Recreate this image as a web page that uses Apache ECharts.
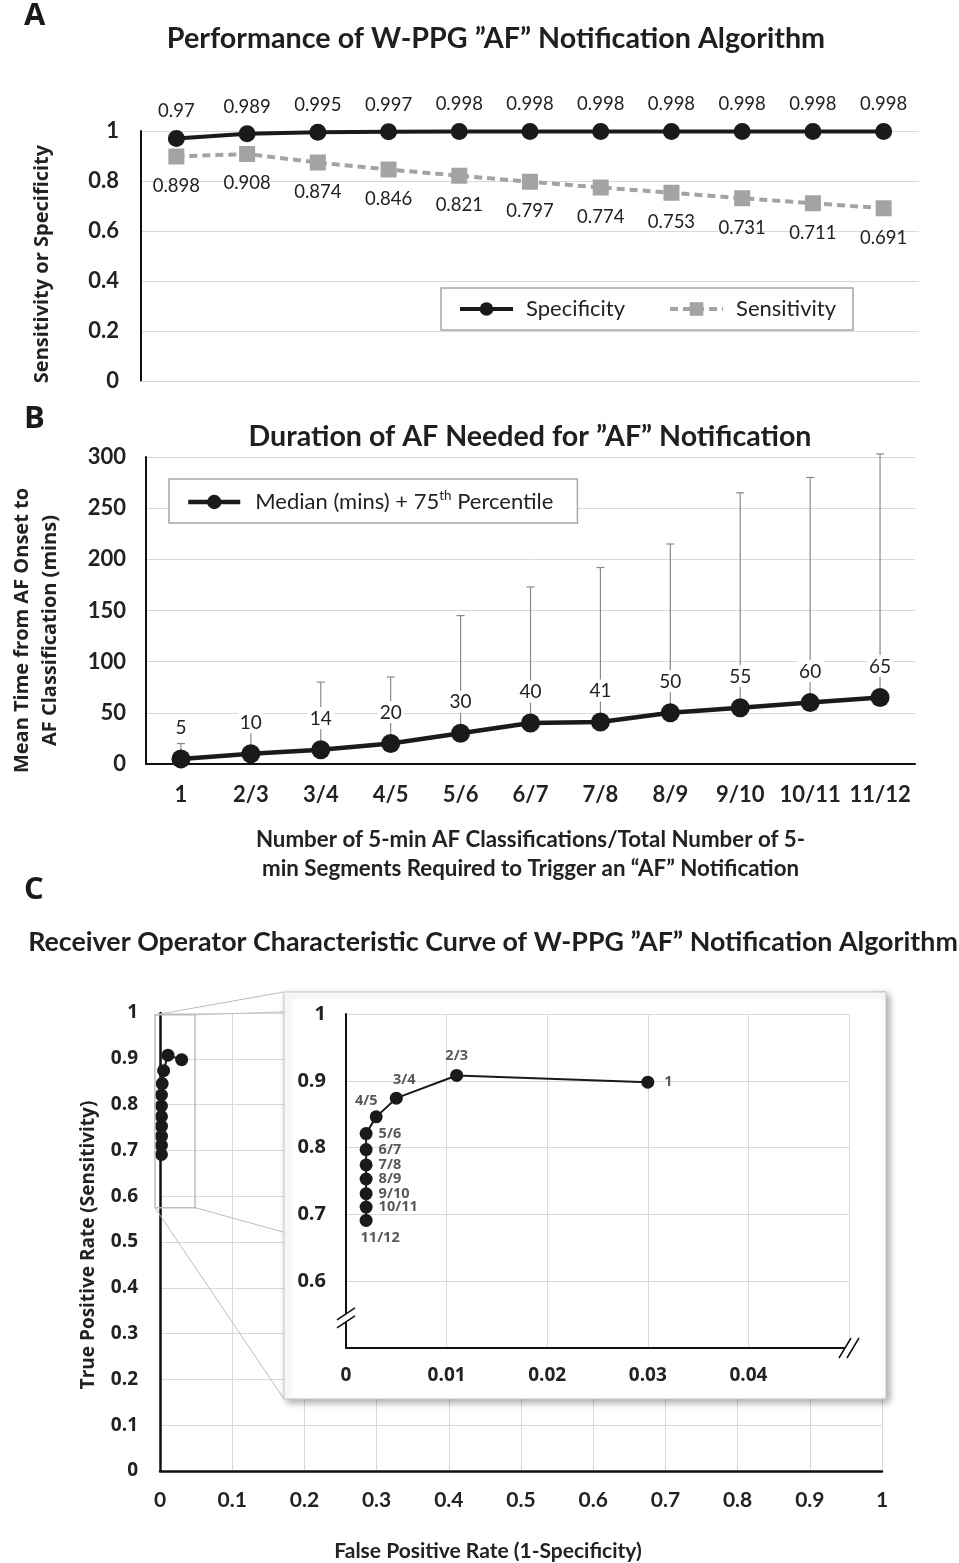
<!DOCTYPE html>
<html><head><meta charset="utf-8">
<script src="https://cdn.jsdelivr.net/npm/echarts@6/dist/echarts.min.js"></script>
<style>html,body{margin:0;padding:0;background:#fff}#c{width:959px;height:1563px}</style>
</head><body><div id="c"></div><script>
// ---------- data ----------
const categories = ['1','2/3','3/4','4/5','5/6','6/7','7/8','8/9','9/10','10/11','11/12'];
const specificity = [0.97,0.989,0.995,0.997,0.998,0.998,0.998,0.998,0.998,0.998,0.998];
const sensitivity = [0.898,0.908,0.874,0.846,0.821,0.797,0.774,0.753,0.731,0.711,0.691];
const medianMins = [5,10,14,20,30,40,41,50,55,60,65];
const p75Mins = [20,34,80,85,145,173,192,215,265,280,303];
const falsePositiveRate = specificity.map(s => +(1 - s).toFixed(3));

// ---------- styles ----------
const NARROW = "Lato,'Liberation Sans',sans-serif";
const WIDE = "'Open Sans','Noto Sans',sans-serif";
const TXT = '#222';
const GRID = '#d9d9d9';
const insetLabelLayout = {
  '1': {position:'right', distance:10},
  '2/3': {position:'top', distance:6},
  '3/4': {position:'top', distance:4, offset:[8,0]},
  '4/5': {position:'top', distance:2, offset:[-10,0]},
  '11/12': {position:'bottom', distance:3, offset:[14,0]}
};

const chart = echarts.init(document.getElementById('c'), null, {renderer:'canvas'});

const rocData = categories.map((c,i) => [falsePositiveRate[i], sensitivity[i], c]);

const option = {
  backgroundColor:'#fff',
  animation:false,
  title:[
    {text:'Performance of W-PPG \u201DAF\u201D Notification Algorithm', left:491, top:19, textAlign:'center',
     textStyle:{fontFamily:NARROW, fontWeight:'bold', fontSize:28.7, color:'#1f1f1f'}},
    {text:'Duration of AF Needed for \u201DAF\u201D Notification', left:525, top:417, textAlign:'center',
     textStyle:{fontFamily:NARROW, fontWeight:'bold', fontSize:28.6, color:'#1f1f1f'}},
    {text:'Receiver Operator Characteristic Curve of W-PPG \u201DAF\u201D Notification Algorithm', left:488, top:924, textAlign:'center',
     textStyle:{fontFamily:NARROW, fontWeight:'bold', fontSize:26.8, color:'#1f1f1f'}}
  ],
  legend:[
    {data:['Specificity','Sensitivity'], left:441, top:288, orient:'horizontal',
     padding:[10,17,10,17], itemGap:43, itemWidth:53, itemHeight:17,
     borderColor:'#a6a6a6', borderWidth:1.5, backgroundColor:'#fff',
     lineStyle:{width:4},
     textStyle:{fontFamily:NARROW, fontSize:22, color:TXT, padding:[0,0,0,8]}},
    {data:['Median (mins) + 75th Percentile'], left:169, top:479,
     padding:[10,24,10,17], itemWidth:52, itemHeight:18,
     borderColor:'#a6a6a6', borderWidth:1.5, backgroundColor:'#fff',
     lineStyle:{width:4.5},
     formatter:() => 'Median (mins) + 75{sup|th} Percentile',
     textStyle:{fontFamily:NARROW, fontSize:22, color:TXT, padding:[0,0,0,10],
       rich:{sup:{fontFamily:NARROW, fontSize:13.5, color:TXT, padding:[0,0,12,0]}}}}
  ],
  grid:[
    {left:141, top:131, width:778, height:250},
    {left:144, top:457, width:771, height:307},
    {left:160, top:1013, width:722, height:459},
    {left:346, top:1014, width:503, height:334}
  ],
  xAxis:[
    {type:'category', gridIndex:0, data:categories, boundaryGap:true,
     axisLine:{lineStyle:{color:GRID, width:1}}, axisTick:{show:false}, axisLabel:{show:false}},
    {type:'category', gridIndex:1, data:categories, boundaryGap:true,
     axisLine:{lineStyle:{color:'#111', width:2}}, axisTick:{show:false},
     axisLabel:{interval:0, fontFamily:NARROW, fontWeight:'bold', fontSize:22, color:TXT, margin:20},
     name:'Number of 5-min AF Classifications/Total Number of 5-\nmin Segments Required to Trigger an \u201CAF\u201D Notification',
     nameLocation:'middle', nameGap:61,
     nameTextStyle:{fontFamily:NARROW, fontWeight:'bold', fontSize:22.3, color:TXT, lineHeight:29, align:'center'}},
    {type:'value', gridIndex:2, min:0, max:1, interval:0.1,
     axisLine:{onZero:false, lineStyle:{color:'#111', width:2.5}}, axisTick:{show:false},
     splitLine:{show:true, lineStyle:{color:GRID}},
     axisLabel:{fontFamily:NARROW, fontWeight:'bold', fontSize:21, color:TXT, margin:19},
     name:'False Positive Rate (1-Specificity)', nameLocation:'middle', nameGap:70,
     nameTextStyle:{fontFamily:NARROW, fontWeight:'bold', fontSize:21, color:TXT, padding:[0,66,0,0]}},
    {type:'value', gridIndex:3, min:0, max:0.05, interval:0.01, z:11,
     axisLine:{onZero:false, lineStyle:{color:'#111', width:2}}, axisTick:{show:false},
     splitLine:{show:true, lineStyle:{color:GRID}},
     axisLabel:{fontFamily:WIDE, fontWeight:'bold', fontSize:19, color:TXT, margin:18,
       formatter:v => (Math.abs(v-0.05)<1e-9 ? '' : String(+v.toFixed(2)))}}
  ],
  yAxis:[
    {type:'value', gridIndex:0, min:0, max:1, interval:0.2,
     axisLine:{show:true, lineStyle:{color:'#111', width:2}}, axisTick:{show:false},
     splitLine:{lineStyle:{color:GRID}},
     axisLabel:{fontFamily:NARROW, fontWeight:'bold', fontSize:22, color:TXT, margin:22},
     name:'Sensitivity or Specificity', nameLocation:'middle', nameGap:89,
     nameTextStyle:{fontFamily:WIDE, fontWeight:'bold', fontSize:20, color:TXT, padding:[0,16,0,0]}},
    {type:'value', gridIndex:1, min:0, max:300, interval:50,
     axisLine:{show:true, lineStyle:{color:'#111', width:2}}, axisTick:{show:false},
     splitLine:{lineStyle:{color:GRID}},
     axisLabel:{fontFamily:NARROW, fontWeight:'bold', fontSize:22, color:TXT, margin:20},
     name:'Mean Time from AF Onset to\nAF Classification (mins)', nameLocation:'middle', nameGap:82,
     nameTextStyle:{fontFamily:WIDE, fontWeight:'bold', fontSize:20, color:TXT, lineHeight:28, align:'center', padding:[0,40,0,0]}},
    {type:'value', gridIndex:2, min:0, max:1, interval:0.1,
     axisLine:{show:true, onZero:false, lineStyle:{color:'#111', width:2.5}}, axisTick:{show:false},
     splitLine:{lineStyle:{color:GRID}},
     axisLabel:{fontFamily:WIDE, fontWeight:'bold', fontSize:19, color:TXT, margin:22,
       formatter:v => String(+v.toFixed(1))},
     name:'True Positive Rate (Sensitivity)', nameLocation:'middle', nameGap:62,
     nameTextStyle:{fontFamily:WIDE, fontWeight:'bold', fontSize:19, color:TXT, padding:[0,6,0,0]}},
    {type:'value', gridIndex:3, min:0.5, max:1, interval:0.1, z:11,
     axisLine:{show:true, onZero:false, lineStyle:{color:'#111', width:2}}, axisTick:{show:false},
     splitLine:{lineStyle:{color:GRID}},
     axisLabel:{fontFamily:WIDE, fontWeight:'bold', fontSize:20, color:TXT, margin:20,
       formatter:v => (Math.abs(v-0.5)<1e-9 ? '' : String(+v.toFixed(1)))}}
  ],
  series:[
    {name:'Specificity', type:'line', xAxisIndex:0, yAxisIndex:0, data:specificity,
     symbol:'circle', symbolSize:17, z:4,
     lineStyle:{color:'#1a1a1a', width:4}, itemStyle:{color:'#1a1a1a'},
     label:{show:true, position:'top', distance:9, fontFamily:NARROW, fontSize:18.5, color:TXT}},
    {name:'Sensitivity', type:'line', xAxisIndex:0, yAxisIndex:0, data:sensitivity,
     symbol:'rect', symbolSize:16, z:3,
     lineStyle:{color:'#a3a3a3', width:4, type:[8,5]}, itemStyle:{color:'#a3a3a3'},
     label:{show:true, position:'bottom', distance:12, fontFamily:NARROW, fontSize:18.5, color:TXT}},
    {name:'75th percentile', type:'custom', xAxisIndex:1, yAxisIndex:1, z:2,
     data:categories.map((c,i) => [i, medianMins[i], p75Mins[i]]),
     encode:{x:0, y:[1,2]},
     renderItem:(params, api) => {
       const top = api.coord([api.value(0), api.value(2)]);
       const bot = api.coord([api.value(0), api.value(1)]);
       const st = {stroke:'#8a8a8a', lineWidth:1.2};
       return {type:'group', children:[
         {type:'line', shape:{x1:top[0], y1:bot[1], x2:top[0], y2:top[1]}, style:st},
         {type:'line', shape:{x1:top[0]-4, y1:top[1], x2:top[0]+4, y2:top[1]}, style:st}
       ]};
     }},
    {name:'Median (mins) + 75th Percentile', type:'line', xAxisIndex:1, yAxisIndex:1, data:medianMins,
     symbol:'circle', symbolSize:19, z:4,
     lineStyle:{color:'#1a1a1a', width:4.5}, itemStyle:{color:'#1a1a1a'},
     label:{show:true, position:'top', distance:11, fontFamily:NARROW, fontSize:19, color:TXT,
       backgroundColor:'#fff', padding:[2,2,1,2]}},
    {name:'ROC', type:'line', xAxisIndex:2, yAxisIndex:2, data:rocData,
     symbol:'circle', symbolSize:13, z:3,
     lineStyle:{color:'#1a1a1a', width:2}, itemStyle:{color:'#1a1a1a'}},
    {name:'ROC inset', type:'line', xAxisIndex:3, yAxisIndex:3, z:12,
     data:rocData.map(d => ({value:d, label:Object.assign({show:true}, insetLabelLayout[d[2]] || {})})),
     symbol:'circle', symbolSize:13,
     lineStyle:{color:'#1a1a1a', width:2}, itemStyle:{color:'#1a1a1a'},
     label:{show:true, position:'right', distance:6, formatter:p => p.value[2],
       fontFamily:WIDE, fontWeight:'bold', fontSize:14.5, color:'#595959', lineHeight:15}}
  ]
};
chart.setOption(option);

// ---------- decorations: panel letters, inset box, zoom callout, axis breaks ----------
function decorate(){
  const px = (g, v) => chart.convertToPixel({gridIndex:g}, v);
  const box = {x:284, y:992, w:602, h:407};
  const r0 = px(2, [-0.007, 0.996]);
  const r1 = px(2, [0.0485, 0.575]);
  const gray = '#bdbdbd';
  const letter = "bold 31px 'Open Sans','Noto Sans',sans-serif";
  const els = [
    {type:'text', left:24, top:1, style:{text:'A', font:letter, fill:'#1a1a1a'}},
    {type:'text', left:24, top:404, style:{text:'B', font:letter, fill:'#1a1a1a'}},
    {type:'text', left:24, top:875, style:{text:'C', font:letter, fill:'#1a1a1a'}},
    {type:'rect', z:9, shape:{x:r0[0], y:r0[1], width:r1[0]-r0[0], height:r1[1]-r0[1]},
     style:{fill:null, stroke:gray, lineWidth:1.5}},
    {type:'line', z:9, shape:{x1:r0[0], y1:r0[1], x2:box.x, y2:box.y}, style:{stroke:gray, lineWidth:1}},
    {type:'line', z:9, shape:{x1:r1[0], y1:r0[1], x2:box.x+box.w, y2:box.y}, style:{stroke:gray, lineWidth:1}},
    {type:'line', z:9, shape:{x1:r0[0], y1:r1[1], x2:box.x, y2:box.y+box.h}, style:{stroke:gray, lineWidth:1}},
    {type:'line', z:9, shape:{x1:r1[0], y1:r1[1], x2:box.x+box.w, y2:box.y+box.h}, style:{stroke:gray, lineWidth:1}},
    {type:'rect', z:10, shape:{x:box.x, y:box.y, width:box.w, height:box.h},
     style:{fill:'#fff', stroke:'#c8c8c8', lineWidth:1, shadowBlur:7, shadowOffsetX:3, shadowOffsetY:3, shadowColor:'rgba(0,0,0,0.35)'}}
  ];
  const yb = px(3, [0, 0.545]);
  const xb = px(3, [0.05, 0.5]);
  els.push({type:'polygon', z:13, shape:{points:[[yb[0]-9,yb[1]+2],[yb[0]+9,yb[1]-10],[yb[0]+9,yb[1]-2],[yb[0]-9,yb[1]+10]]}, style:{fill:'#fff'}});
  [-4, 4].forEach(o => els.push({type:'line', z:13,
    shape:{x1:yb[0]-9, y1:yb[1]+o+6, x2:yb[0]+9, y2:yb[1]+o-6}, style:{stroke:'#111', lineWidth:1.5}}));
  els.push({type:'polygon', z:13, shape:{points:[[xb[0]-10,xb[1]+10],[xb[0]+2,xb[1]-10],[xb[0]+10,xb[1]-10],[xb[0]-2,xb[1]+10]]}, style:{fill:'#fff'}});
  [-4, 4].forEach(o => els.push({type:'line', z:13,
    shape:{x1:xb[0]+o-6, y1:xb[1]+10, x2:xb[0]+o+6, y2:xb[1]-10}, style:{stroke:'#111', lineWidth:1.5}}));
  chart.setOption({graphic:{elements:els}});
}
decorate();
</script></body></html>
